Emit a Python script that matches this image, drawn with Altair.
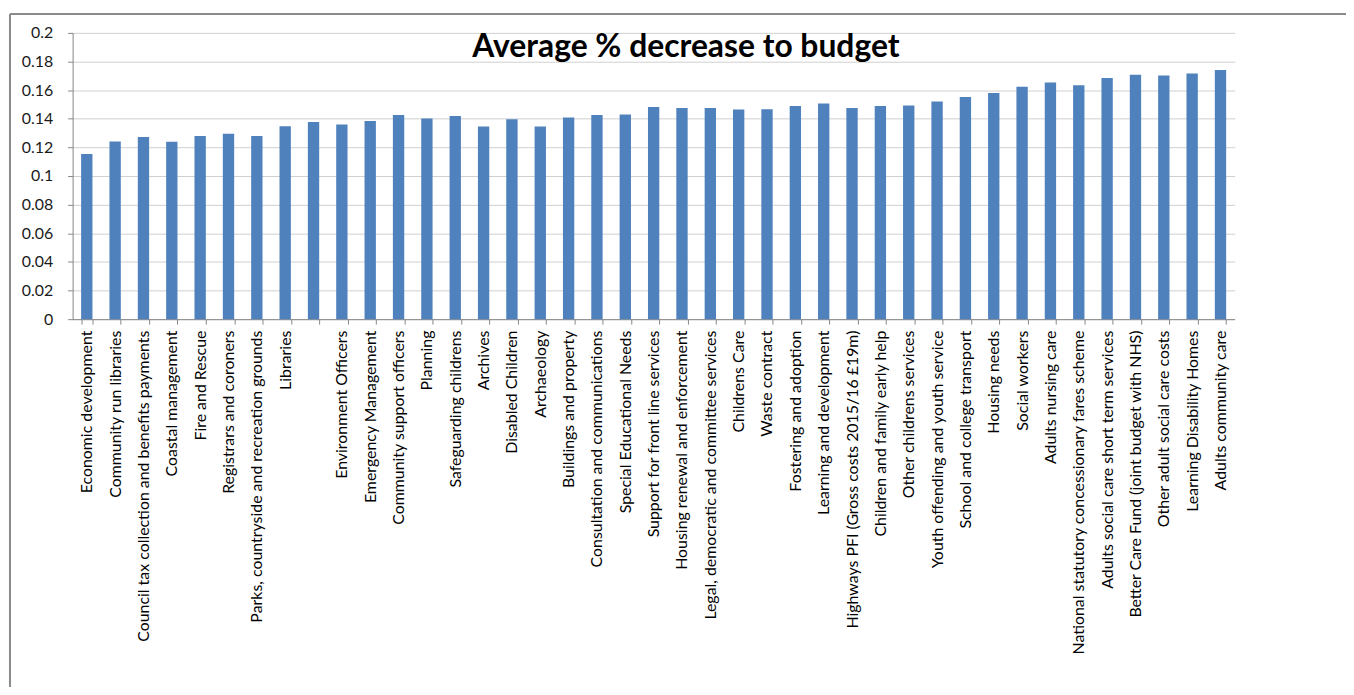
import altair as alt
import pandas as pd

categories = [
    "Economic development",
    "Community run libraries",
    "Council tax collection and benefits payments",
    "Coastal management",
    "Fire and Rescue",
    "Registrars and coroners",
    "Parks, countryside and recreation grounds",
    "Libraries",
    " ",
    "Environment Officers",
    "Emergency Management",
    "Community support officers",
    "Planning",
    "Safeguarding childrens",
    "Archives",
    "Disabled Children",
    "Archaeology",
    "Buildings and property",
    "Consultation and communications",
    "Special Educational Needs",
    "Support for front line services",
    "Housing renewal and enforcement",
    "Legal, democratic and committee services",
    "Childrens Care",
    "Waste contract",
    "Fostering and adoption",
    "Learning and development",
    "Highways PFI (Gross costs 2015/16 £19m)",
    "Children and family early help",
    "Other childrens services",
    "Youth offending and youth service",
    "School and college transport",
    "Housing needs",
    "Social workers",
    "Adults nursing care",
    "National statutory concessionary fares scheme",
    "Adults social care short term services",
    "Better Care Fund (joint budget with NHS)",
    "Other adult social care costs",
    "Learning Disability Homes",
    "Adults community care",
]

values = [
    0.1153, 0.1241, 0.1272, 0.1240, 0.1279, 0.1295, 0.1280, 0.1348, 0.1378,
    0.1360, 0.1385, 0.1427, 0.1401, 0.1420, 0.1346, 0.1397, 0.1346, 0.1408,
    0.1427, 0.1429, 0.1483, 0.1476, 0.1476, 0.1464, 0.1466, 0.1490, 0.1506,
    0.1476, 0.1489, 0.1492, 0.1520, 0.1552, 0.1580, 0.1624, 0.1654, 0.1634,
    0.1684, 0.1707, 0.1703, 0.1717, 0.1740,
]

y_ticks = [0, 0.02, 0.04, 0.06, 0.08, 0.1, 0.12, 0.14, 0.16, 0.18, 0.2]
title_text = "Average % decrease to budget"

df = pd.DataFrame({"service": categories, "decrease": values})
one = pd.DataFrame({"title": [title_text]})

FONT = "Lato"
W, H = 1169, 288

bars = alt.Chart(df).mark_bar(color="#4F81BD").encode(
    x=alt.X(
        "service:N",
        sort=categories,
        scale=alt.Scale(paddingInner=0.6, paddingOuter=0.3),
        axis=alt.Axis(
            title=None,
            labelAngle=-90,
            labelAlign="right",
            labelBaseline="middle",
            tickBand="extent",
            tickSize=5,
            tickColor="#868686",
            domainColor="#868686",
            labelPadding=6,
            labelLimit=400,
            labelFontSize=16,
            labelColor="#000000",
            labelFont=FONT,
        ),
    ),
    y=alt.Y(
        "decrease:Q",
        scale=alt.Scale(domain=[0, 0.2], nice=False),
        axis=alt.Axis(
            title=None,
            values=y_ticks,
            labelExpr="'' + datum.value",
            grid=True,
            gridColor="#D0D0D0",
            gridWidth=1,
            tickSize=5,
            tickColor="#868686",
            domainColor="#868686",
            labelPadding=15,
            labelFontSize=16,
            labelColor="#1a1a1a",
            labelFont=FONT,
        ),
    ),
)

title = alt.Chart(one).mark_text(
    font=FONT, fontSize=32, fontWeight="bold", color="#000000", align="center", baseline="middle"
).encode(
    text="title:N",
    x=alt.value(617),
    y=alt.value(14),
)

frame_top = alt.Chart(one).mark_rule(color="#8a8a8a", strokeWidth=2).encode(
    x=alt.value(-63), x2=alt.value(1290), y=alt.value(-19)
)
frame_left = alt.Chart(one).mark_rule(color="#8a8a8a", strokeWidth=2).encode(
    x=alt.value(-63), y=alt.value(-19), y2=alt.value(700)
)

chart = alt.layer(bars, title, frame_top, frame_left).properties(
    width=W,
    height=H,
    autosize=alt.AutoSizeParams(type="none"),
    padding={"left": 65, "top": 23, "right": 112, "bottom": 368},
).configure_view(stroke=None)

chart.save("out.html", embed_options={"renderer": "svg", "actions": False})
